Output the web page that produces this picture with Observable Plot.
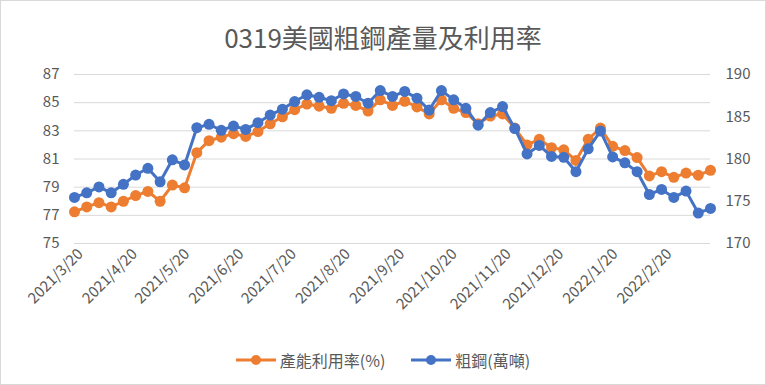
<!DOCTYPE html>
<html>
<head>
<meta charset="utf-8">
<script src="https://cdn.jsdelivr.net/npm/d3@7"></script>
<script src="https://cdn.jsdelivr.net/npm/@observablehq/plot@0.6"></script>
<style>
  html, body { margin: 0; padding: 0; background: #fff; }
  #wrap { position: relative; width: 766px; height: 385px; box-shadow: inset 0 0 0 1px #d9d9d9; font-family: "Noto Sans CJK TC", "Noto Sans", sans-serif; color: #595959; overflow: hidden; }
  #title { height: 60px; box-sizing: border-box; padding-top: 21px; font-size: 26px; line-height: 32px; text-align: center; color: #595959; }
  #legend { height: 50px; display: flex; justify-content: center; align-items: center; gap: 26px; font-size: 16px; color: #595959; padding-left: 0px; box-sizing: border-box; }
  .item { display: flex; align-items: center; gap: 4px; }
  svg { display: block; }
</style>
</head>
<body>
<div id="wrap">
  <div id="title">0319美國粗鋼產量及利用率</div>
  <div id="chart"></div>
  <div id="legend"></div>
</div>
<script>
const titleText = "0319美國粗鋼產量及利用率";
const dates = ["2021-03-20","2021-03-27","2021-04-03","2021-04-10","2021-04-17","2021-04-24","2021-05-01","2021-05-08","2021-05-15","2021-05-22",
  "2021-05-29","2021-06-05","2021-06-12","2021-06-19","2021-06-26","2021-07-03","2021-07-10","2021-07-17","2021-07-24","2021-07-31",
  "2021-08-07","2021-08-14","2021-08-21","2021-08-28","2021-09-04","2021-09-11","2021-09-18","2021-09-25","2021-10-02","2021-10-09",
  "2021-10-16","2021-10-23","2021-10-30","2021-11-06","2021-11-13","2021-11-20","2021-11-27","2021-12-04","2021-12-11","2021-12-18",
  "2021-12-25","2022-01-01","2022-01-08","2022-01-15","2022-01-22","2022-01-29","2022-02-05","2022-02-12","2022-02-19","2022-02-26",
  "2022-03-05","2022-03-12","2022-03-19"];
const utilization = [77.25,77.6,77.9,77.6,78.0,78.4,78.7,78.0,79.15,78.95,
  81.45,82.3,82.55,82.8,82.6,82.95,83.5,84.0,84.5,84.9,
  84.75,84.6,84.95,84.8,84.4,85.2,84.8,85.1,84.7,84.2,
  85.2,84.6,84.3,83.5,84.05,84.2,83.2,82.0,82.4,81.8,
  81.65,80.9,82.4,83.2,81.9,81.6,81.1,79.8,80.1,79.7,
  80.0,79.85,80.2];
const steel = [175.45,176.0,176.7,176.0,177.0,178.1,178.9,177.3,179.9,179.3,
  183.7,184.1,183.4,183.9,183.5,184.3,185.2,185.9,186.8,187.6,
  187.3,186.9,187.7,187.4,186.6,188.1,187.4,188.0,187.2,185.8,
  188.1,187.0,186.0,184.0,185.5,186.2,183.6,180.6,181.6,180.3,
  180.2,178.5,181.2,183.3,180.25,179.55,178.5,175.8,176.4,175.45,
  176.2,173.6,174.15];
const leftTicks = [75,77,79,81,83,85,87];
const rightTicks = [170,175,180,185,190];
const xTickLabels = ["2021/3/20","2021/4/20","2021/5/20","2021/6/20","2021/7/20","2021/8/20","2021/9/20","2021/10/20","2021/11/20","2021/12/20","2022/1/20","2022/2/20"];
const seriesNames = ["產能利用率(%)","粗鋼(萬噸)"];
const colors = ["#ED7D31","#4472C4"];

const parse = s => { const [y,m,d] = s.split(/[-\/]/).map(Number); return new Date(Date.UTC(y, m-1, d)); };
const L0 = 75, L1 = 87, R0 = 170, R1 = 190;
const toLeft = v => L0 + (v - R0) * (L1 - L0) / (R1 - R0);
const toRight = v => R0 + (v - L0) * (R1 - R0) / (L1 - L0);

const rowsU = dates.map((d, i) => ({date: parse(d), v: utilization[i]}));
const rowsS = dates.map((d, i) => ({date: parse(d), v: toLeft(steel[i])}));
const xTicks = xTickLabels.map(parse);
const labelMap = new Map(xTicks.map((d, i) => [+d, xTickLabels[i]]));

const chart = Plot.plot({
  width: 766,
  height: 275,
  marginLeft: 74,
  marginRight: 56,
  marginTop: 14,
  marginBottom: 92,
  style: {fontFamily: '"Noto Sans CJK TC", "Noto Sans", sans-serif', fontSize: "15px", color: "#595959", background: "transparent"},
  x: {type: "utc", domain: [parse(dates[0]), parse(dates[dates.length-1])]},
  y: {domain: [L0, L1]},
  marks: [
    Plot.gridY(leftTicks, {stroke: "#d9d9d9", strokeOpacity: 1, strokeWidth: 1}),
    Plot.axisY({ticks: leftTicks, tickSize: 0, tickPadding: 15, fontSize: 15, fill: "#595959", label: null}),
    Plot.axisY({anchor: "right", ticks: rightTicks.map(toLeft), tickFormat: d => String(Math.round(toRight(d))), tickSize: 0, tickPadding: 15, fontSize: 15, fill: "#595959", label: null}),
    Plot.axisX({ticks: xTicks, tickFormat: d => labelMap.get(+d), tickRotate: -45, tickSize: 0, tickPadding: 6, dx: 6, dy: 2, fontSize: 15, fill: "#595959", label: null}),
    Plot.line(rowsU, {x: "date", y: "v", stroke: colors[0], strokeWidth: 3}),
    Plot.dot(rowsU, {x: "date", y: "v", r: 5.5, fill: colors[0], stroke: "none"}),
    Plot.line(rowsS, {x: "date", y: "v", stroke: colors[1], strokeWidth: 3}),
    Plot.dot(rowsS, {x: "date", y: "v", r: 5.5, fill: colors[1], stroke: "none"})
  ]
});
document.getElementById("chart").appendChild(chart);

const legend = document.getElementById("legend");
seriesNames.forEach((name, i) => {
  const item = document.createElement("div");
  item.className = "item";
  item.innerHTML = `<svg width="40" height="12"><line x1="0" y1="6" x2="40" y2="6" stroke="${colors[i]}" stroke-width="3"/><circle cx="20" cy="6" r="5" fill="${colors[i]}"/></svg><span>${name}</span>`;
  legend.appendChild(item);
});
</script>
</body>
</html>
